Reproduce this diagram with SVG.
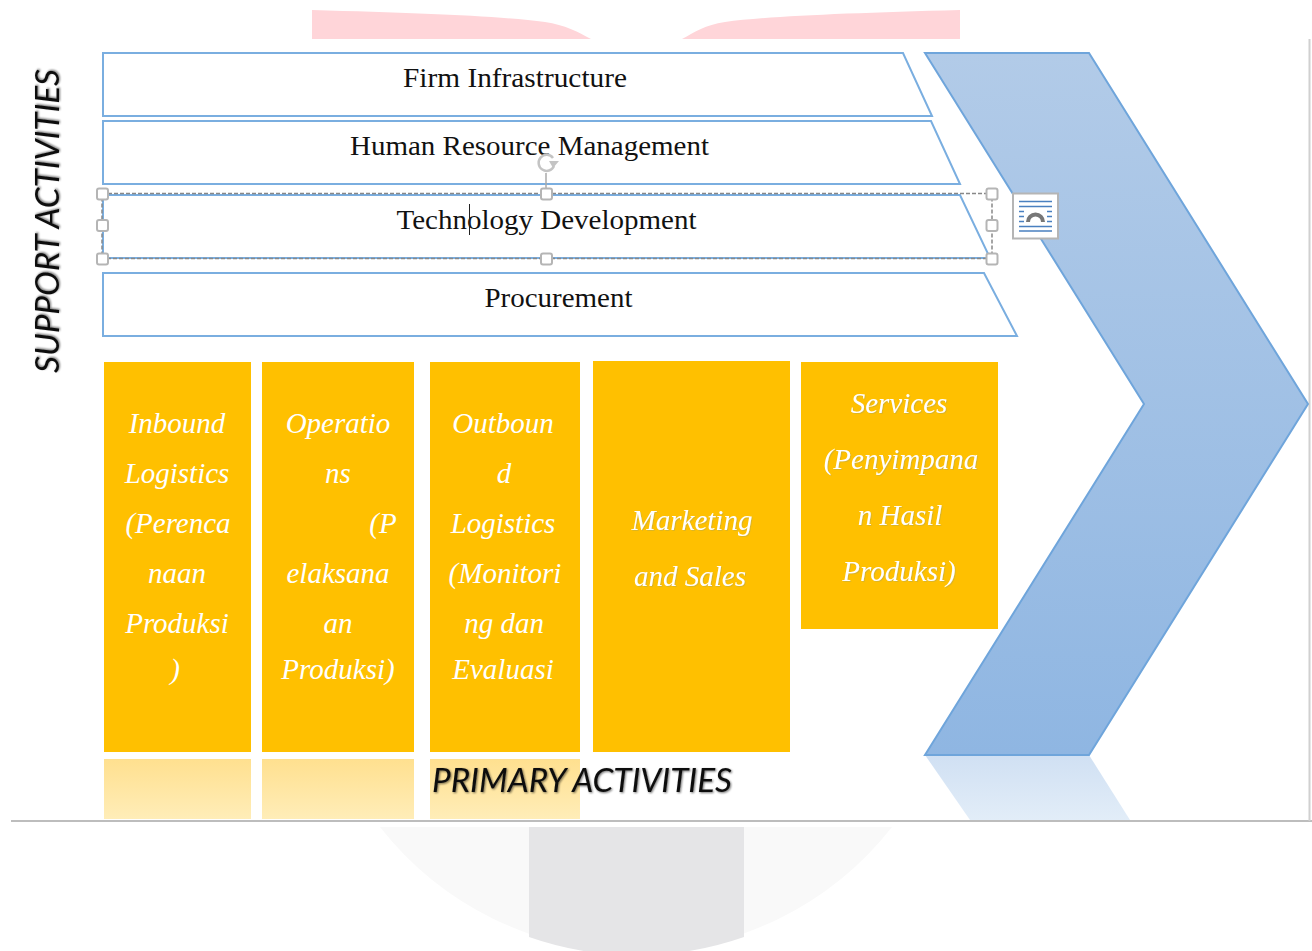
<svg xmlns="http://www.w3.org/2000/svg" width="1312" height="951" viewBox="0 0 1312 951">
<style>
.sup{fill:#fff;stroke:#7aaee0;stroke-width:2}
.lab{font-family:"Liberation Serif",serif;font-size:27.500px;fill:#111;text-anchor:middle}
.box{fill:#ffc000}
.refl{fill:url(#yf)}
.pt{font-family:"Liberation Serif",serif;font-style:italic;font-size:29px;fill:#fff;text-anchor:middle}
.sd{filter:url(#ts)}
.side{font-family:Lato,"Liberation Sans",sans-serif;font-style:italic;font-size:33.500px;fill:#111;filter:url(#sh)}
.h{fill:#fff;stroke:#b5b5b5;stroke-width:2}
.sel{fill:none;stroke:#888;stroke-width:1.500;stroke-dasharray:4 2}
</style>
<defs>
<linearGradient id="bf" x1="0" y1="0" x2="0" y2="1"><stop offset="0" stop-color="#b2cbe8"/><stop offset="1" stop-color="#8fb6e2"/></linearGradient>
<linearGradient id="rf" x1="0" y1="0" x2="0" y2="1"><stop offset="0" stop-color="#d0e0f3"/><stop offset="1" stop-color="#e2edf8"/></linearGradient>
<linearGradient id="yf" x1="0" y1="0" x2="0" y2="1"><stop offset="0" stop-color="#ffe08f"/><stop offset="1" stop-color="#ffedb8"/></linearGradient>
<filter id="sh" x="-5%" y="-20%" width="110%" height="140%"><feGaussianBlur in="SourceAlpha" stdDeviation="1.300"/><feOffset dx="1" dy="1"/><feComponentTransfer><feFuncA type="linear" slope="0.55"/></feComponentTransfer><feMerge><feMergeNode/><feMergeNode in="SourceGraphic"/></feMerge></filter>
<filter id="ts" x="-5%" y="-20%" width="110%" height="140%"><feGaussianBlur in="SourceAlpha" stdDeviation="0.700"/><feOffset dx="1" dy="1"/><feComponentTransfer><feFuncR type="linear" slope="0" intercept="0.55"/><feFuncG type="linear" slope="0" intercept="0.42"/><feFuncB type="linear" slope="0" intercept="0.05"/><feFuncA type="linear" slope="0.6"/></feComponentTransfer><feMerge><feMergeNode/><feMergeNode in="SourceGraphic"/></feMerge></filter>
</defs>
<g id="background">
<path d="M312 10 C420 13 500 16 545 22 C565 25 578 32 591 39 L312 39Z" fill="#ffd5d9"/>
<path d="M960 10 C850 13 770 16 725 22 C705 25 695 32 682 39 L960 39Z" fill="#ffd5d9"/>
<path d="M380 827 H892 A325 325 0 0 1 380 827Z" fill="#f9f9f9"/>
<path d="M529 827 H744 V937 A325 325 0 0 1 529 937Z" fill="#e5e5e7"/>
<path d="M11 821 H1312" stroke="#bdbdbd" stroke-width="2" fill="none"/>
<path d="M1309.500 39 V821" stroke="#d0d0d0" stroke-width="2" fill="none"/>
</g>
<g id="chevron">
<path d="M925 755 H1089 L1130 820 H970Z" fill="url(#rf)"/>
<path d="M925 53 H1089 L1308 404 L1089 755 H925 L1144 404Z" fill="url(#bf)" stroke="#6fa5db" stroke-width="2"/>
</g>
<g id="firm-infrastructure"><path class="sup" d="M103 53 H903 L932 116 H103Z"/><text class="lab" x="515" y="87" textLength="224" lengthAdjust="spacingAndGlyphs">Firm Infrastructure</text></g>
<g id="human-resource-management"><path class="sup" d="M103 121 H931 L960 184 H103Z"/><text class="lab" x="529.500" y="155" textLength="359" lengthAdjust="spacingAndGlyphs">Human Resource Management</text></g>
<g id="technology-development"><path class="sup" d="M103 195 H960 L990 258 H103Z"/><text class="lab" x="546.500" y="229" textLength="300" lengthAdjust="spacingAndGlyphs">Technology Development</text></g>
<g id="procurement"><path class="sup" d="M103 273 H984 L1017 336 H103Z"/><text class="lab" x="558.500" y="307" textLength="148" lengthAdjust="spacingAndGlyphs">Procurement</text></g>
<g id="selection">
<path class="sel" d="M102 193.500 H992 V258.500 H102Z"/>
<path d="M546 193 V173" stroke="#aaa" stroke-width="1.500" fill="none"/>
<path d="M553 158 A8 8 0 1 0 554 166" fill="none" stroke="#c4c4c4" stroke-width="2.500"/>
<path d="M549 161 L559 161 L553 168Z" fill="#c4c4c4"/>
<rect class="h" x="97" y="188.500" width="11" height="11" rx="2"/><rect class="h" x="541" y="188.500" width="11" height="11" rx="2"/><rect class="h" x="986.500" y="188.500" width="11" height="11" rx="2"/>
<rect class="h" x="97" y="220" width="11" height="11" rx="2"/><rect class="h" x="986.500" y="220" width="11" height="11" rx="2"/>
<rect class="h" x="97" y="253.500" width="11" height="11" rx="2"/><rect class="h" x="541" y="253.500" width="11" height="11" rx="2"/><rect class="h" x="986.500" y="253.500" width="11" height="11" rx="2"/>
<path d="M469.500 204 V235" stroke="#222" stroke-width="1" fill="none"/>
</g>
<g id="layout-icon">
<rect x="1013" y="193.500" width="45" height="45" fill="#fff" stroke="#b5b5b5" stroke-width="2"/>
<path d="M1019 201.500 H1052 M1019 206.500 H1052 M1019 226.500 H1052 M1019 231 H1052 M1019 211.500 H1024 M1047 211.500 H1052 M1019 216.500 H1024 M1047 216.500 H1052 M1019 221.500 H1024 M1047 221.500 H1052" stroke="#4a80c0" stroke-width="1.500" fill="none"/>
<path d="M1028 222 A7.500 7.500 0 0 1 1043 222" stroke="#777" stroke-width="4" fill="none"/>
</g>
<g id="inbound"><rect class="box" x="104" y="362" width="147" height="390"/>
<text class="pt" x="177" y="432.500">Inbound</text><text class="pt" x="177" y="482.500">Logistics</text><text class="pt" x="178" y="532.500">(Perenca</text><text class="pt" x="177" y="582.500">naan</text><text class="pt" x="177" y="632.500">Produksi</text><text class="pt" x="175" y="678.500">)</text></g>
<g id="operations"><rect class="box" x="262" y="362" width="152" height="390"/>
<text class="pt" x="338" y="432.500">Operatio</text><text class="pt" x="338" y="482.500">ns</text><text class="pt" x="383" y="532.500">(P</text><text class="pt" x="338" y="582.500">elaksana</text><text class="pt" x="338" y="632.500">an</text><text class="pt" x="338" y="678.500">Produksi)</text></g>
<g id="outbound"><rect class="box" x="430" y="362" width="150" height="390"/>
<text class="pt" x="503" y="432.500">Outboun</text><text class="pt" x="504" y="482.500">d</text><text class="pt" x="503" y="532.500">Logistics</text><text class="pt" x="505" y="582.500">(Monitori</text><text class="pt" x="504" y="632.500">ng dan</text><text class="pt" x="503" y="678.500">Evaluasi</text></g>
<g id="marketing"><rect class="box" x="593" y="361" width="197" height="391"/>
<text class="pt sd" x="692" y="529.500">Marketing</text><text class="pt sd" x="690" y="585.500">and Sales</text></g>
<g id="services"><rect class="box" x="801" y="362" width="197" height="267"/>
<text class="pt sd" x="899" y="412.500">Services</text><text class="pt sd" x="901" y="468.500">(Penyimpana</text><text class="pt sd" x="900" y="524.500">n Hasil</text><text class="pt sd" x="899" y="580.500">Produksi)</text></g>
<g id="reflections"><rect class="refl" x="104" y="759" width="147" height="60"/><rect class="refl" x="262" y="759" width="152" height="60"/><rect class="refl" x="430" y="759" width="150" height="60"/></g>
<g id="labels">
<text class="side" x="432" y="792" textLength="300" lengthAdjust="spacingAndGlyphs">PRIMARY ACTIVITIES</text>
<text class="side" transform="translate(59 373) rotate(-90)" textLength="304" lengthAdjust="spacingAndGlyphs">SUPPORT ACTIVITIES</text>
</g>
</svg>
